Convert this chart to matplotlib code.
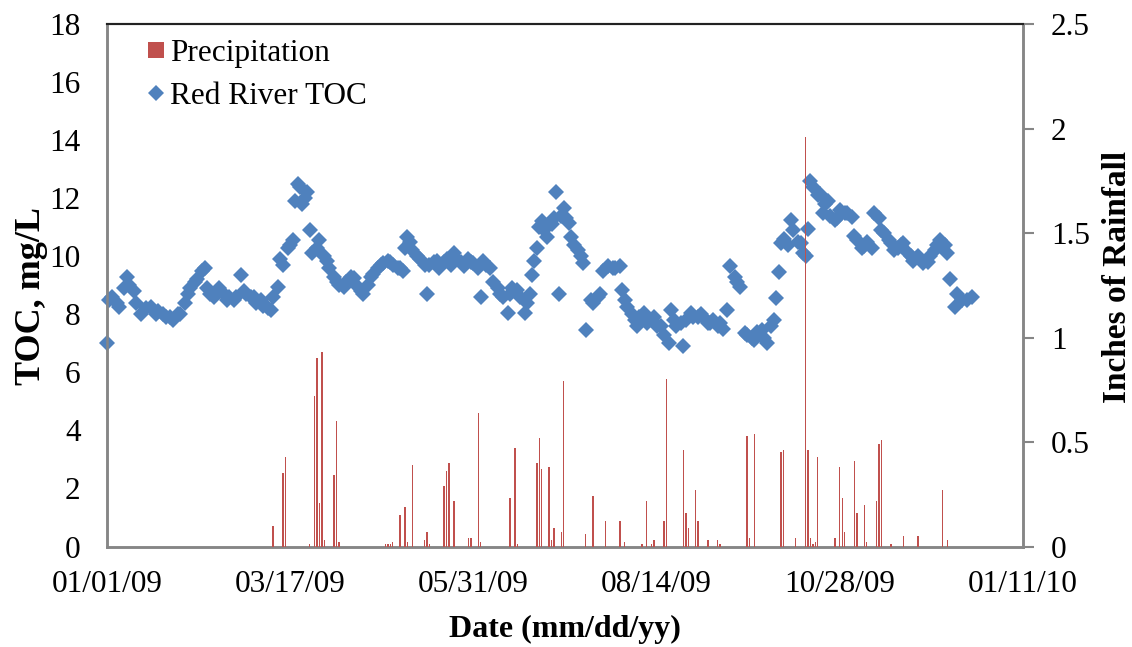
import numpy as np
import matplotlib
matplotlib.use("Agg")
import matplotlib.pyplot as plt
import matplotlib.dates as mdates
from matplotlib.lines import Line2D

# ---------------- data ----------------
start_date = np.datetime64("2009-01-01")

toc_days = [0, 1, 2, 4, 5, 7, 8, 9, 11, 12, 14, 16, 18, 20, 21, 23, 24, 26, 27, 29,
            30, 32, 33, 34, 36, 37, 39, 40, 41, 42, 44, 45, 46, 48, 49, 50, 52, 53, 55, 56,
            57, 59, 60, 61, 63, 64, 66, 67, 68, 70, 71, 72, 74, 75, 76, 77, 78, 79, 80, 81,
            82, 83, 84, 86, 87, 89, 90, 91, 93, 94, 95, 97, 98, 100, 101, 102, 104, 105, 107, 108,
            109, 111, 112, 113, 115, 116, 117, 119, 120, 121, 122, 123, 124, 125, 127, 128, 130, 131, 132, 134,
            135, 136, 138, 139, 141, 142, 143, 145, 146, 148, 149, 150, 152, 153, 154, 155, 157, 158, 160, 161,
            162, 164, 165, 166, 168, 169, 171, 172, 173, 174, 175, 176, 177, 178, 179, 180, 182, 183, 184, 185,
            186, 187, 188, 189, 190, 191, 193, 194, 195, 196, 198, 199, 201, 202, 203, 205, 207, 208, 210, 211,
            212, 213, 215, 216, 217, 218, 220, 221, 223, 224, 225, 227, 228, 230, 231, 232, 233, 235, 236, 237,
            239, 240, 242, 243, 244, 246, 247, 248, 250, 251, 252, 254, 255, 257, 258, 259, 261, 262, 264, 265,
            266, 268, 269, 270, 272, 273, 274, 275, 276, 277, 279, 280, 281, 283, 284, 285, 286, 287, 288, 289,
            291, 292, 293, 294, 295, 296, 298, 299, 300, 302, 303, 305, 306, 307, 309, 310, 311, 313, 314, 316,
            317, 318, 320, 321, 322, 324, 325, 326, 328, 329, 330, 332, 333, 334, 336, 337, 339, 340, 341, 343,
            344, 345, 347, 348, 350, 352, 354]

toc_mg_l = [7.0, 8.5, 8.6, 8.4, 8.25, 8.9, 9.3, 9.0, 8.8, 8.4, 8.0, 8.2, 8.25, 8.0, 8.1, 8.0, 7.9, 7.9, 7.8, 8.0,
            8.0, 8.4, 8.7, 8.9, 9.1, 9.2, 9.5, 9.6, 8.9, 8.7, 8.6, 8.8, 8.9, 8.7, 8.5, 8.6, 8.5, 8.6, 9.35, 8.8,
            8.7, 8.6, 8.6, 8.4, 8.5, 8.3, 8.2, 8.15, 8.6, 8.95, 9.9, 9.7, 10.3, 10.4, 10.55, 11.9, 12.5, 12.4, 11.8, 12.0,
            12.2, 10.9, 10.1, 10.3, 10.55, 10.0, 9.85, 9.6, 9.3, 9.1, 9.0, 8.95, 9.1, 9.3, 9.25, 9.0, 8.8, 8.7, 9.0, 9.3,
            9.4, 9.6, 9.7, 9.75, 9.85, 9.8, 9.7, 9.6, 9.6, 9.5, 10.3, 10.65, 10.5, 10.2, 10.0, 9.9, 9.7, 8.7, 9.7, 9.8,
            9.85, 9.6, 9.8, 9.9, 9.7, 10.1, 9.9, 9.8, 9.65, 9.9, 9.8, 9.75, 9.6, 8.6, 9.85, 9.7, 9.6, 9.1, 8.9, 8.7,
            8.6, 8.05, 8.7, 8.9, 8.85, 8.6, 8.05, 8.4, 8.7, 9.35, 9.85, 10.3, 11.0, 11.2, 10.9, 10.65, 11.1, 11.3, 12.2, 8.7,
            11.4, 11.65, 11.3, 11.15, 10.65, 10.4, 10.2, 10.0, 9.75, 7.45, 8.5, 8.4, 8.6, 8.7, 9.5, 9.65, 9.6, 9.6, 9.65, 8.85,
            8.5, 8.25, 8.0, 7.8, 7.6, 7.9, 8.05, 7.7, 7.8, 7.9, 7.6, 7.6, 7.3, 7.0, 8.15, 7.8, 7.6, 7.7, 6.9, 7.8,
            8.05, 7.9, 7.9, 8.0, 7.9, 7.7, 7.7, 7.8, 7.6, 7.7, 7.5, 8.15, 9.65, 9.3, 9.1, 8.95, 7.35, 7.3, 7.2, 7.1,
            7.4, 7.45, 7.2, 7.0, 7.6, 7.8, 8.55, 9.45, 10.45, 10.6, 10.4, 11.25, 10.9, 10.5, 10.45, 10.1, 10.0, 10.95, 12.6, 12.4,
            12.1, 12.15, 11.5, 11.8, 11.9, 11.4, 11.25, 11.3, 11.6, 11.5, 11.5, 11.35, 10.7, 10.55, 10.3, 10.35, 10.5, 10.3, 11.5, 11.3,
            10.9, 10.8, 10.55, 10.45, 10.2, 10.3, 10.4, 10.45, 10.1, 10.0, 9.85, 10.0, 9.9, 9.75, 9.8, 10.0, 10.2, 10.4, 10.55, 10.4,
            10.1, 9.2, 8.25, 8.7, 8.5, 8.5, 8.6]

rain_days = [68, 72, 73, 83, 85, 86, 87, 88, 89, 93, 94, 95, 114, 115, 116, 117, 120, 122, 123, 125,
             130, 131, 132, 138, 139, 140, 142, 148, 149, 152, 153, 165, 167, 168, 176, 177, 178, 181, 182, 183,
             186, 187, 196, 199, 204, 210, 212, 219, 221, 223, 224, 228, 229, 236, 237, 238, 241, 242, 246, 250,
             251, 262, 263, 265, 276, 277, 282, 286, 287, 288, 289, 290, 291, 298, 300, 301, 302, 306, 307, 310,
             311, 315, 316, 317, 321, 326, 332, 342, 344]

rain_inches = [0.10, 0.35, 0.43, 0.01, 0.72, 0.90, 0.21, 0.93, 0.03, 0.34, 0.60, 0.02, 0.01, 0.01, 0.01, 0.02, 0.15, 0.19, 0.02, 0.39,
               0.03, 0.07, 0.01, 0.29, 0.36, 0.40, 0.22, 0.04, 0.04, 0.64, 0.02, 0.23, 0.47, 0.01, 0.40, 0.52, 0.37, 0.38, 0.03, 0.09,
               0.07, 0.79, 0.06, 0.24, 0.12, 0.12, 0.02, 0.01, 0.22, 0.01, 0.03, 0.12, 0.80, 0.46, 0.16, 0.09, 0.27, 0.12, 0.03, 0.03,
               0.01, 0.53, 0.04, 0.54, 0.45, 0.46, 0.04, 1.96, 0.46, 0.04, 0.01, 0.02, 0.43, 0.04, 0.38, 0.23, 0.07, 0.41, 0.16, 0.20,
               0.02, 0.22, 0.49, 0.51, 0.01, 0.05, 0.05, 0.27, 0.03]

x_tick_days = [0, 75, 150, 225, 300, 375]
left_ticks = [0, 2, 4, 6, 8, 10, 12, 14, 16, 18]
right_ticks = [0, 0.5, 1, 1.5, 2, 2.5]
right_tick_labels = ["0", "0.5", "1", "1.5", "2", "2.5"]

# ---------------- figure ----------------
plt.rcParams['font.family'] = ['Liberation Serif', 'DejaVu Serif']

toc_dates = start_date + np.array(toc_days).astype('timedelta64[D]')
rain_dates = start_date + np.array(rain_days).astype('timedelta64[D]')
tick_dates = start_date + np.array(x_tick_days).astype('timedelta64[D]')

fig = plt.figure(figsize=(11.32, 6.47), dpi=100)
ax = fig.add_axes([0.0945, 0.1553, 0.8092, 0.8076])
ax2 = ax.twinx()

blue = '#4F81BD'
red = '#C0504D'
gray = '#868686'

ax.plot(toc_dates.astype('datetime64[D]').astype(object), toc_mg_l, linestyle='none', marker='D',
        markersize=8.3, color=blue, markeredgewidth=0, clip_on=False, zorder=3)

ax2.bar(rain_dates.astype('datetime64[D]').astype(object), rain_inches, width=0.55,
        color=red, linewidth=0, zorder=4)

ax.set_xlim(tick_dates[0].astype(object), tick_dates[-1].astype(object))
ax.set_ylim(0, 18)
ax2.set_ylim(0, 2.5)

ax.set_xticks([d.astype(object) for d in tick_dates])
ax.xaxis.set_major_formatter(mdates.DateFormatter('%m/%d/%y'))
ax.set_yticks(left_ticks)
ax2.set_yticks(right_ticks)
ax2.set_yticklabels(right_tick_labels)

fs = 22.5
ax.tick_params(axis='x', length=0, pad=17, labelsize=fs)
ax.tick_params(axis='y', length=0, pad=19, labelsize=fs)
ax2.tick_params(axis='y', length=8, width=1.5, color=gray, direction='out', pad=12, labelsize=fs)

for a in (ax, ax2):
    for side in ('left', 'bottom', 'right'):
        a.spines[side].set_color(gray)
        a.spines[side].set_linewidth(1.8)
    a.spines['top'].set_color('#222222')
    a.spines['top'].set_linewidth(1.5)

ax.set_xlabel('Date (mm/dd/yy)', fontsize=23, fontweight='bold', labelpad=11)
ax.set_ylabel('TOC, mg/L', fontsize=26, fontweight='bold')
ax.yaxis.set_label_coords(-0.064, 0.48)
ax2.set_ylabel('Inches of Rainfall', fontsize=24, fontweight='bold')
ax2.yaxis.set_label_coords(1.086, 0.515)

handles = [Line2D([], [], linestyle='none', marker='s', markersize=11, color=red, markeredgewidth=0),
           Line2D([], [], linestyle='none', marker='D', markersize=8.3, color=blue, markeredgewidth=0)]
leg = ax2.legend(handles, ['Precipitation', 'Red River TOC'], loc='upper left',
                 bbox_to_anchor=(0.027, 1.0), frameon=False, fontsize=fs,
                 handlelength=0.6, handletextpad=0.15, labelspacing=0.45, borderaxespad=0.07)

fig.savefig('out.png', dpi=100)
